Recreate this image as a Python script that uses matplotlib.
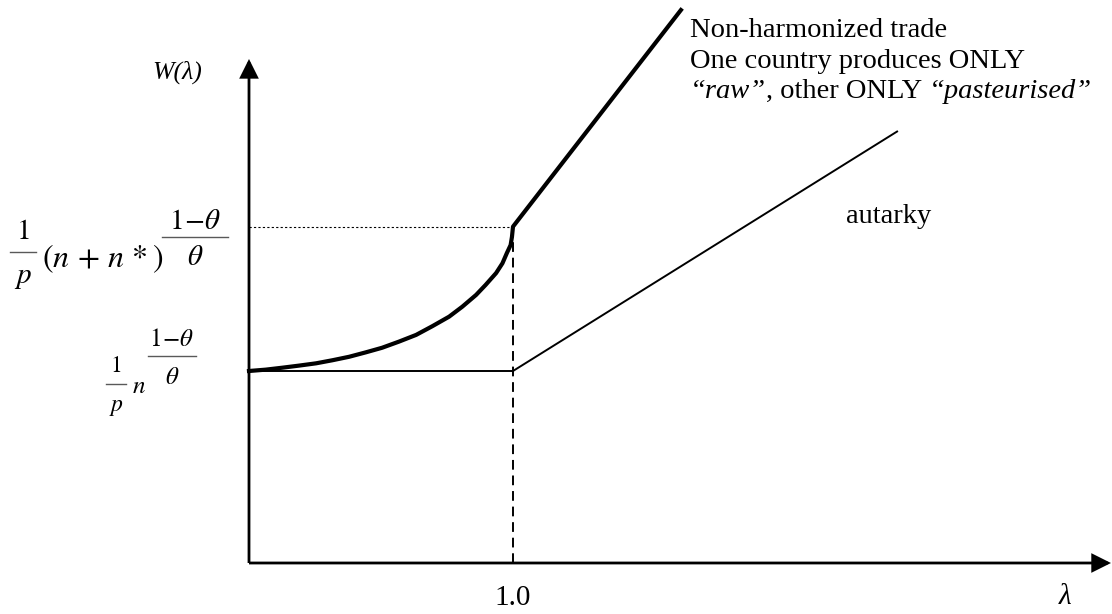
import matplotlib
matplotlib.use("Agg")
import matplotlib.pyplot as plt
from matplotlib.patches import FancyArrowPatch

plt.rcParams['font.family'] = ['Liberation Serif', 'DejaVu Serif']
plt.rcParams['mathtext.fontset'] = 'stix'

# curve values (lambda, W), W normalised so autarky level = 1
lam_trade = [0.0, 0.063, 0.125, 0.189, 0.254, 0.316, 0.379, 0.442, 0.504, 0.568, 0.633,
             0.694, 0.758, 0.808, 0.860, 0.896, 0.936, 0.960, 0.977, 0.991, 0.996, 1.0, 1.636]
w_trade = [1.0, 1.007, 1.017, 1.028, 1.040, 1.056, 1.074, 1.097, 1.121, 1.153, 1.188,
           1.233, 1.283, 1.335, 1.396, 1.448, 1.510, 1.561, 1.615, 1.656, 1.698, 1.752, 2.880]
lam_aut = [0.0, 1.0, 2.458]
w_aut = [1.0, 1.0, 2.25]
lam_kink = 1.0
w_low = 1.0
w_high = 1.752
x_max = 3.265
y_max = 2.625

# pixel layout of the original: origin at (249, 563), 264 px per lambda, 192 px per W
fig = plt.figure(figsize=(11.12, 6.14), dpi=100)
ax = fig.add_axes([0, 0, 1, 1])
ax.set_xlim(-249 / 264, 863 / 264)
ax.set_ylim(-51 / 192, 563 / 192)
ax.axis('off')


def px(x, y):
    return (x - 249) / 264, (563 - y) / 192


def frac(xc, ybar, num, den, fs, half, dn, dd):
    # numerator, bar and denominator of a stacked fraction (pixel positions)
    ax.text(*px(xc, ybar - dn), num, fontsize=fs, ha='center', va='center')
    ax.text(*px(xc, ybar + dd), den, fontsize=fs, ha='center', va='center')
    x0, y0 = px(xc - half, ybar)
    x1, _ = px(xc + half, ybar)
    ax.plot([x0, x1], [y0, y0], color='0.35', lw=1.0)


# guides
ax.plot([0, lam_kink], [w_high, w_high], color='black', lw=0.8, ls=(0, (2, 2)))
ax.plot([lam_kink, lam_kink], [0, w_high], color='black', lw=1.4, ls=(0, (5, 3)))

# curves
ax.plot(lam_aut, w_aut, color='black', lw=1.4, solid_capstyle='butt')
ax.plot(lam_trade, w_trade, color='black', lw=3.0, solid_joinstyle='round')

# axes with arrows
for tip in [(x_max, 0), (0, y_max)]:
    ax.add_patch(FancyArrowPatch((0, 0), tip, arrowstyle='-|>,head_length=0.42,head_width=0.21',
                                 mutation_scale=26, lw=2, color='black',
                                 shrinkA=0, shrinkB=0, joinstyle='miter', capstyle='butt'))

# axis texts
ax.text(*px(177, 72), 'W(λ)', fontsize=18.5, style='italic', ha='center', va='center')
ax.text(lam_kink, px(0, 598)[1], '1.0', fontsize=21, ha='center', va='center')
ax.text(*px(1065, 597), 'λ', fontsize=21, style='italic', ha='center', va='center')

# level label at the trade kink
yb = 563 - w_high * 192
frac(23, yb + 25, r'$1$', r'$p$', 21, 13, 20, 26)
ax.text(*px(42, yb + 32), r'$(n\,+\,n\,*)$', fontsize=23, ha='left', va='center')
frac(195, yb + 10, r'$1\!-\!\theta$', r'$\theta$', 21, 33, 15, 21)

# level label at autarky
yb = 563 - w_low * 192
frac(116, yb + 13, r'$1$', r'$p$', 17, 10, 17, 23)
ax.text(*px(139, yb + 16), r'$n$', fontsize=18, ha='center', va='center')
frac(172, yb - 15, r'$1\!-\!\theta$', r'$\theta$', 18, 24, 16, 22)

# curve labels
fs = 20.5
ax.text(*px(690, 37), 'Non-harmonized trade', fontsize=fs, va='baseline')
ax.text(*px(690, 68), 'One country produces ONLY', fontsize=fs, va='baseline')
pieces = [('\u201craw\u201d', 'italic'), (', other ONLY ', 'normal'), ('\u201cpasteurised\u201d', 'italic')]
renderer = fig.canvas.get_renderer()
x_px = 690
for s, st in pieces:
    t = ax.text(*px(x_px, 98), s, fontsize=fs, style=st, va='baseline')
    x_px += t.get_window_extent(renderer).width
ax.text(*px(846, 223), 'autarky', fontsize=fs, va='baseline')

fig.savefig('out.png', dpi=100)
